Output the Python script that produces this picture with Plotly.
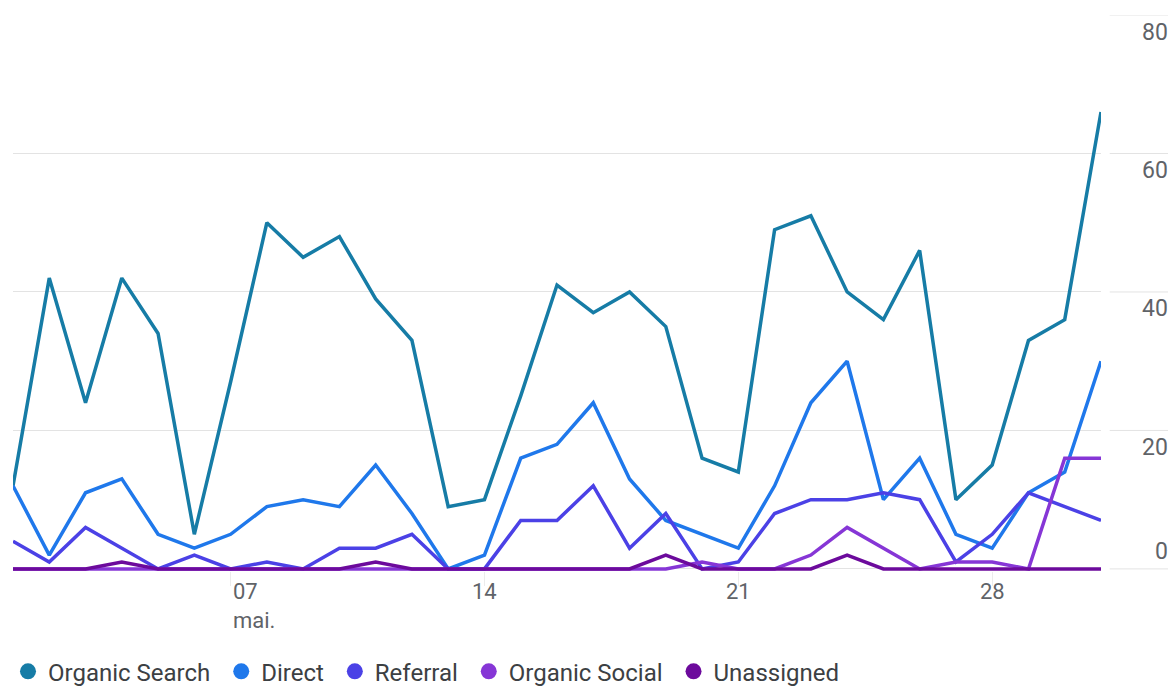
import pandas as pd
import plotly.graph_objects as go

# daily sessions by channel, May 1 - May 31
dates = pd.date_range('2023-05-01', periods=31, freq='D')

organic_search = [12, 42, 24, 42, 34, 5, 27, 50, 45, 48, 39, 33, 9, 10, 25, 41,
                  37, 40, 35, 16, 14, 49, 51, 40, 36, 46, 10, 15, 33, 36, 66]
direct = [12, 2, 11, 13, 5, 3, 5, 9, 10, 9, 15, 8, 0, 2, 16, 18,
          24, 13, 7, 5, 3, 12, 24, 30, 10, 16, 5, 3, 11, 14, 30]
referral = [4, 1, 6, 3, 0, 2, 0, 1, 0, 3, 3, 5, 0, 0, 7, 7,
            12, 3, 8, 0, 1, 8, 10, 10, 11, 10, 1, 5, 11, 9, 7]
organic_social = [0, 0, 0, 0, 0, 0, 0, 0, 0, 0, 0, 0, 0, 0, 0, 0,
                  0, 0, 0, 1, 0, 0, 2, 6, 3, 0, 1, 1, 0, 16, 16]
unassigned = [0, 0, 0, 1, 0, 0, 0, 0, 0, 0, 1, 0, 0, 0, 0, 0,
              0, 0, 2, 0, 0, 0, 0, 2, 0, 0, 0, 0, 0, 0, 0]

channels = ['Organic Search', 'Direct', 'Referral', 'Organic Social', 'Unassigned']
series = [organic_search, direct, referral, organic_social, unassigned]
colors = ['#167ca6', '#1f78eb', '#4b41e6', '#8636d6', '#6c0a9c']

y_ticks = [0, 20, 40, 60, 80]
x_tick_dates = ['2023-05-07', '2023-05-14', '2023-05-21', '2023-05-28']
x_tick_text = ['07<br>mai.', '14', '21', '28']

FONT = 'Roboto'
GREY = '#5f6368'

fig = go.Figure()
for name, vals, col in zip(channels, series, colors):
    fig.add_trace(go.Scatter(x=dates, y=vals, mode='lines', name=name,
                             line=dict(color=col, width=3.5),
                             showlegend=False))
# legend entries with round markers (trailing nbsp widens the gap a bit)
for name, col in zip(channels, colors):
    fig.add_trace(go.Scatter(x=[None], y=[None], mode='markers', name=name + '\u00a0',
                             marker=dict(color=col, size=16, symbol='circle')))

fig.update_xaxes(range=[dates[0], dates[-1]], showgrid=False, zeroline=False,
                 tickvals=x_tick_dates, ticktext=['' for _ in x_tick_dates],
                 ticks='outside', ticklen=14, tickcolor='#ececec', showline=False)
fig.update_yaxes(range=[-0.3, 80], tickvals=y_ticks, showticklabels=False,
                 showgrid=True, gridcolor='#e3e3e3', gridwidth=1, zeroline=False)

# y labels sit just under each gridline (0 sits above its line)
for v in y_ticks:
    fig.add_annotation(x=1.0634, xref='paper', y=v, yref='y', text=str(v),
                       showarrow=False, xanchor='right', yanchor='middle',
                       yshift=-17 if v > 0 else 17,
                       font=dict(family=FONT, size=23, color=GREY))
    fig.add_shape(type='line', xref='paper', yref='y', x0=1.008, x1=1.066,
                  y0=v, y1=v, line=dict(color='#e3e3e3', width=1))

for d, t in zip(x_tick_dates, x_tick_text):
    fig.add_annotation(x=d, xref='x', y=0, yref='paper', text=t, showarrow=False,
                       xanchor='left' if '<br>' in t else 'center', yanchor='top',
                       yshift=-6, align='left',
                       font=dict(family=FONT, size=22, color=GREY))

# page body has an 8px margin, so the figure is 8px smaller than the window
fig.update_layout(
    width=1168, height=678,
    margin=dict(l=5, r=75, t=7, b=115),
    plot_bgcolor='white', paper_bgcolor='white',
    font=dict(family=FONT, size=22, color=GREY),
    legend=dict(orientation='h', xref='container', yref='container',
                x=-0.003, y=0.021, xanchor='left', yanchor='middle',
                font=dict(family=FONT, size=24, color='#3c4043'),
                itemclick=False),
    hovermode='x unified',
)

fig.write_html('out.html')
